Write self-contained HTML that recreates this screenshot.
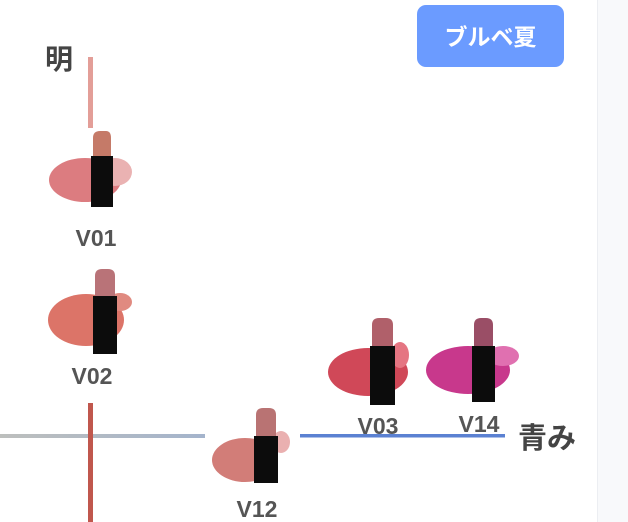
<!DOCTYPE html>
<html><head><meta charset="utf-8"><style>
html,body{margin:0;padding:0;background:#fff;width:628px;height:522px;overflow:hidden}
svg{display:block}
text{font-family:"Liberation Sans","Noto Sans CJK JP",sans-serif;font-weight:bold}
</style></head><body>
<svg width="628" height="522" viewBox="0 0 628 522">
<defs>
<linearGradient id="hg" x1="0" x2="1"><stop offset="0" stop-color="#bdbfbd"/><stop offset="1" stop-color="#a4b4cc"/></linearGradient>
</defs>
<rect x="597" y="0" width="31" height="522" fill="#f8f9fb"/>
<line x1="597.5" y1="0" x2="597.5" y2="522" stroke="#eceef2"/>
<rect x="88" y="57" width="5" height="71" fill="#e39e98"/>
<rect x="88" y="403" width="5" height="119" fill="#c0574d"/>
<rect x="0" y="434" width="205" height="4" fill="url(#hg)"/>
<rect x="88" y="434" width="5" height="4" fill="#c0574d"/>
<rect x="300" y="434" width="205" height="3.5" fill="#5b81d2"/>
<text x="45" y="69" font-size="28" fill="#444">明</text>
<text x="518" y="448" font-size="29" fill="#444">青み</text>
<rect x="417" y="5" width="147" height="62" rx="9" fill="#6b9bff"/>
<text x="490.5" y="45" font-size="23" fill="#fff" text-anchor="middle">ブルベ夏</text>
<!-- V01 -->
<ellipse cx="85" cy="180" rx="36" ry="22" fill="#dc7c80"/>
<ellipse cx="115" cy="172" rx="17" ry="14" fill="#eab2b2"/>
<path d="M93 160 V138 Q93 131 100 131 L106 131 Q111 131 111 138 V160Z" fill="#c57a68"/>
<rect x="91" y="156" width="22" height="51" fill="#0c0c0c"/>
<text x="96" y="246" font-size="23" fill="#555" text-anchor="middle">V01</text>
<!-- V02 -->
<ellipse cx="86" cy="320" rx="38" ry="26" fill="#dc7468"/>
<ellipse cx="120" cy="302" rx="12" ry="9" fill="#e08a80"/>
<path d="M95 300 V276 Q95 269 102 269 L108 269 Q115 269 115 276 V300Z" fill="#b97378"/>
<rect x="93" y="296" width="24" height="58" fill="#0c0c0c"/>
<text x="92" y="384" font-size="23" fill="#555" text-anchor="middle">V02</text>
<!-- V03 -->
<ellipse cx="368" cy="372" rx="40" ry="24" fill="#d04858"/>
<ellipse cx="400" cy="355" rx="9" ry="13" fill="#e57582"/>
<path d="M372 350 V325 Q372 318 379 318 L386 318 Q393 318 393 325 V350Z" fill="#b0606a"/>
<rect x="370" y="346" width="25" height="59" fill="#0c0c0c"/>
<text x="378" y="434" font-size="23" fill="#555" text-anchor="middle">V03</text>
<!-- V14 -->
<ellipse cx="468" cy="370" rx="42" ry="24" fill="#c8388c"/>
<ellipse cx="503" cy="356" rx="16" ry="10" fill="#e070b0"/>
<path d="M474 350 V325 Q474 318 481 318 L486 318 Q493 318 493 325 V350Z" fill="#9a4e66"/>
<rect x="472" y="346" width="23" height="56" fill="#0c0c0c"/>
<text x="479" y="432" font-size="23" fill="#555" text-anchor="middle">V14</text>
<!-- V12 -->
<ellipse cx="245" cy="460" rx="33" ry="22" fill="#d27d78"/>
<ellipse cx="281" cy="442" rx="9" ry="11" fill="#eab0b0"/>
<path d="M256 440 V415 Q256 408 263 408 L269 408 Q276 408 276 415 V440Z" fill="#b97373"/>
<rect x="254" y="436" width="24" height="47" fill="#0c0c0c"/>
<text x="257" y="517" font-size="23" fill="#555" text-anchor="middle">V12</text>
</svg>
</body></html>
